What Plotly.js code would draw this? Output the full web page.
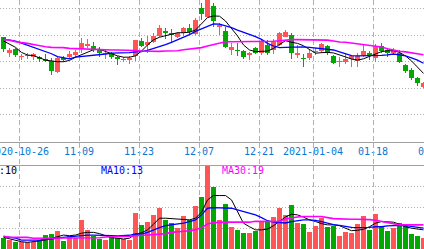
<!DOCTYPE html>
<html><head><meta charset="utf-8">
<script src="https://cdn.plot.ly/plotly-3.0.1.min.js"></script>
<style>html,body{margin:0;padding:0;overflow:hidden;background:#fff}#chart{width:454px;height:249px}</style>
</head><body><div id="chart"></div>
<script>
const dates = [
'2020-10-21','2020-10-22','2020-10-23','2020-10-26','2020-10-27','2020-10-28','2020-10-29','2020-10-30',
'2020-11-02','2020-11-03','2020-11-04','2020-11-05','2020-11-06','2020-11-09','2020-11-10','2020-11-11','2020-11-12','2020-11-13',
'2020-11-16','2020-11-17','2020-11-18','2020-11-19','2020-11-20','2020-11-23','2020-11-24','2020-11-25','2020-11-26','2020-11-27','2020-11-30',
'2020-12-01','2020-12-02','2020-12-03','2020-12-04','2020-12-07','2020-12-08','2020-12-09','2020-12-10','2020-12-11',
'2020-12-14','2020-12-15','2020-12-16','2020-12-17','2020-12-18','2020-12-21','2020-12-22','2020-12-23','2020-12-24','2020-12-25',
'2020-12-28','2020-12-29','2020-12-30','2020-12-31',
'2021-01-04','2021-01-05','2021-01-06','2021-01-07','2021-01-08','2021-01-11','2021-01-12','2021-01-13','2021-01-14','2021-01-15',
'2021-01-18','2021-01-19','2021-01-20','2021-01-21','2021-01-22','2021-01-25','2021-01-26','2021-01-27','2021-01-28'];
const extraDates = ['2021-01-29','2021-02-01'];

const open = [13.93,13.33,13.48,13.16,13.20,13.18,13.18,13.10,13.03,12.61,
13.14,13.18,13.27,13.48,13.59,13.59,13.48,13.29,13.33,13.18,
13.08,13.06,13.22,13.78,13.63,13.74,13.97,14.15,14.07,13.92,
14.09,14.27,14.03,15.02,14.69,15.09,14.32,14.17,13.44,13.44,
13.41,13.25,13.52,13.32,13.63,13.44,13.63,13.94,14.00,13.25,
13.14,13.13,13.35,13.41,13.59,13.22,12.98,13.00,13.10,13.04,
13.25,13.32,13.13,13.59,13.44,13.32,13.34,12.88,12.69,12.40,
12.04];
const high = [13.93,13.52,13.52,13.29,13.33,13.33,13.22,13.29,13.14,13.18,
13.22,13.40,13.44,13.89,13.85,13.74,13.55,13.44,13.37,13.22,
13.18,13.22,13.82,13.89,13.95,14.07,14.39,14.26,14.22,14.13,
14.29,14.42,14.63,15.22,15.51,15.20,14.44,14.29,13.71,13.69,
13.44,13.38,13.56,13.84,13.82,13.84,14.12,14.19,14.07,13.63,
13.29,13.44,13.50,13.71,13.63,13.25,13.17,13.34,13.25,13.32,
13.63,13.40,13.67,13.69,13.50,13.50,13.44,12.90,12.75,12.44,
12.25];
const low = [13.37,13.18,13.18,13.06,13.10,13.06,12.99,12.99,12.50,12.58,
12.99,13.10,13.18,13.33,13.52,13.37,13.18,13.10,13.10,12.88,
12.99,12.91,13.03,13.55,13.33,13.71,13.94,13.84,13.69,13.89,
13.97,14.00,14.00,14.57,14.67,14.32,14.00,13.50,13.25,13.22,
13.11,13.06,13.29,13.25,13.24,13.29,13.59,13.92,13.11,13.13,
12.81,13.06,13.25,13.34,13.25,12.91,12.81,12.91,12.81,12.81,
13.19,13.06,13.00,13.34,13.17,13.25,12.94,12.56,12.31,12.09,
12.01];
const close = [13.48,13.44,13.25,13.20,13.23,13.29,13.10,13.03,12.65,13.14,
13.06,13.29,13.35,13.70,13.67,13.48,13.33,13.33,13.18,13.10,
13.12,13.14,13.82,13.59,13.74,13.97,14.27,14.08,14.02,14.09,
14.26,14.12,14.57,14.79,15.40,14.54,14.38,13.54,13.56,13.39,
13.19,13.34,13.34,13.79,13.34,13.75,14.07,14.13,13.32,13.32,
13.09,13.34,13.40,13.67,13.32,12.96,13.03,13.09,13.22,13.22,
13.41,13.25,13.59,13.41,13.34,13.44,13.00,12.66,12.40,12.19,
12.19];

const ma5 = [13.78,13.67,13.54,13.35,13.25,13.23,13.14,13.06,13.03,13.00,
13.00,13.05,13.17,13.27,13.38,13.45,13.47,13.38,13.29,13.22,
13.17,13.17,13.22,13.40,13.63,13.82,13.92,13.97,14.04,14.09,
14.09,14.11,14.19,14.42,14.66,14.72,14.71,14.53,14.27,13.97,
13.63,13.44,13.38,13.38,13.40,13.50,13.63,13.79,13.73,13.69,
13.60,13.45,13.32,13.34,13.35,13.33,13.24,13.18,13.10,13.06,
13.11,13.19,13.29,13.38,13.41,13.41,13.35,13.22,13.03,12.81,
12.56];
const ma10 = [13.85,13.82,13.77,13.70,13.62,13.54,13.45,13.39,13.30,13.19,
13.14,13.11,13.17,13.19,13.23,13.24,13.25,13.29,13.32,13.32,
13.32,13.34,13.37,13.38,13.43,13.50,13.56,13.64,13.73,13.82,
13.92,14.02,14.14,14.24,14.35,14.42,14.41,14.35,14.28,14.19,
14.11,14.02,13.94,13.84,13.69,13.59,13.53,13.54,13.55,13.56,
13.56,13.54,13.52,13.50,13.48,13.44,13.37,13.29,13.23,13.22,
13.22,13.23,13.24,13.24,13.26,13.29,13.26,13.22,13.14,13.06,
12.94];
const ma30 = [13.83,13.81,13.75,13.73,13.69,13.65,13.60,13.56,13.54,13.54,
13.53,13.50,13.49,13.48,13.47,13.45,13.44,13.44,13.44,13.44,
13.44,13.44,13.42,13.40,13.39,13.39,13.39,13.40,13.40,13.41,
13.45,13.47,13.50,13.53,13.59,13.65,13.70,13.75,13.75,13.75,
13.75,13.75,13.75,13.75,13.76,13.77,13.79,13.82,13.83,13.83,
13.83,13.83,13.82,13.82,13.81,13.78,13.74,13.73,13.70,13.67,
13.63,13.62,13.59,13.55,13.49,13.44,13.39,13.37,13.34,13.30,
13.26];

const volume = [5.2,4.3,3.5,3.2,3.2,3.2,4.3,6.7,7.4,8.7,
3.9,6.3,5.2,14.0,9.2,6.4,4.8,4.3,5.9,5.2,
4.7,4.3,17.5,11.6,13.2,16.4,19.9,14.0,12.4,10.0,
15.9,14.0,20.7,25.2,42.0,30.0,14.0,21.7,10.7,9.2,
7.9,7.9,8.7,13.2,13.2,15.6,19.9,16.4,21.2,12.4,
11.9,8.3,11.2,14.8,10.7,11.2,6.4,8.0,7.6,12.2,
16.0,9.2,16.9,11.2,8.7,10.0,12.4,11.6,7.4,6.4,
5.2];
const volMa5 = [5.6,4.8,4.0,3.5,3.2,3.4,3.9,4.3,5.2,5.9,
6.7,6.4,6.7,7.6,8.0,8.0,7.4,6.4,5.4,5.2,
4.8,5.2,7.1,7.8,9.2,11.9,14.8,14.8,14.6,14.3,
14.3,14.0,14.8,17.7,23.6,25.7,25.7,25.7,23.6,17.7,
12.4,10.7,9.2,9.2,9.6,11.2,13.2,15.4,16.7,16.4,
15.3,14.0,13.2,12.2,11.6,11.6,11.2,10.0,8.8,9.0,
9.5,10.7,12.4,13.2,13.0,12.9,11.9,10.7,10.0,9.5,
9.2];
const volMa10 = [6.1,5.8,5.2,4.3,4.2,4.2,4.3,4.7,4.8,5.3,
5.6,5.8,6.3,6.6,6.7,6.7,6.7,6.7,6.4,6.3,
6.3,6.6,7.2,7.2,8.0,9.2,10.3,11.2,11.6,11.9,
12.4,13.2,14.0,16.4,19.6,19.9,19.9,19.9,19.6,18.8,
18.0,17.2,16.4,15.1,13.6,12.9,12.7,12.5,13.2,13.6,
14.0,14.0,13.8,13.2,12.4,11.7,11.4,10.9,10.4,10.3,
10.3,10.4,10.7,10.7,11.1,11.4,11.4,11.2,10.9,10.4,
10.0];
const volMa30 = [6.1,5.6,5.6,5.6,5.6,5.2,5.2,5.2,5.2,5.2,
5.2,5.2,5.2,5.4,5.4,5.4,5.4,5.8,5.8,5.8,
5.8,6.1,6.4,6.7,6.7,6.9,7.1,7.4,8.0,8.4,
8.5,8.7,9.3,10.3,12.0,12.7,12.9,12.9,12.9,12.9,
12.9,12.9,13.3,13.2,13.2,13.2,13.2,14.5,15.1,15.4,
15.6,15.6,15.6,15.6,15.1,14.6,14.5,14.3,14.3,14.3,
14.3,14.1,13.8,13.2,12.5,11.9,11.6,11.6,11.6,11.6,
11.6];

const tickDates = ['2020-10-26','2020-11-09','2020-11-23','2020-12-07','2020-12-21','2021-01-04','2021-01-18','2021-02-01'];
const tickLabels = ['2020-10-26','11-09','11-23','12-07','12-21','2021-01-04','01-18','02-01'];
const maLabels = ['MA5:10','MA10:13','MA30:19'];

// ---------- styling / geometry ----------
const W = 454, H = 249;
const PX = 6;                 // pixels per trading day
const X0 = -0.5833;
const xRange = [X0, X0 + W / PX];
const GRID_OFF = 0.4167;
const UP = '#ff5555', DOWN = '#00a800';
const C5 = '#000000', C10 = '#0000ff', C30 = '#ff00ff';
const MONO = 'DejaVu Sans Mono, Liberation Mono, monospace';
const GRIDC = '#b0b0b0';

const allDates = dates.concat(extraDates);
const idx = dates.map((d, i) => i);
const colors = close.map((c, i) => (c >= open[i] ? UP : DOWN));
const bodyBase = close.map((c, i) => Math.min(c, open[i]));
const bodyH = close.map((c, i) => Math.max(Math.abs(c - open[i]), 0.04));
const wickH = high.map((h, i) => h - low[i]);
const tickvals = tickDates.map(d => allDates.indexOf(d) - GRID_OFF);

const traces = [
  {type:'bar', x: idx, y: wickH, base: low, width: 1/PX, marker:{color: colors, line:{width:0}}, xaxis:'x', yaxis:'y', hoverinfo:'skip'},
  {type:'bar', x: idx, y: bodyH, base: bodyBase, width: 5/PX, marker:{color: colors, line:{width:0}}, xaxis:'x', yaxis:'y', customdata: dates, hovertemplate:'%{customdata}<extra></extra>'},
  {type:'scatter', mode:'lines', x: idx, y: ma5, line:{color:C5, width:1}, xaxis:'x', yaxis:'y', hoverinfo:'skip'},
  {type:'scatter', mode:'lines', x: idx, y: ma10, line:{color:C10, width:1.3}, xaxis:'x', yaxis:'y', hoverinfo:'skip'},
  {type:'scatter', mode:'lines', x: idx, y: ma30, line:{color:C30, width:1.6}, xaxis:'x', yaxis:'y', hoverinfo:'skip'},
  {type:'bar', x: idx, y: volume, width: 5/PX, marker:{color: colors, line:{width:0}}, xaxis:'x2', yaxis:'y2', hoverinfo:'skip'},
  {type:'scatter', mode:'lines', x: idx, y: volMa5, line:{color:C5, width:1}, xaxis:'x2', yaxis:'y2', hoverinfo:'skip'},
  {type:'scatter', mode:'lines', x: idx, y: volMa10, line:{color:C10, width:1.3}, xaxis:'x2', yaxis:'y2', hoverinfo:'skip'},
  {type:'scatter', mode:'lines', x: idx, y: volMa30, line:{color:C30, width:1.6}, xaxis:'x2', yaxis:'y2', hoverinfo:'skip'},
  {type:'scatter', mode:'markers', x: [0], y: [0], marker:{opacity:0}, xaxis:'x3', yaxis:'y3', hoverinfo:'skip'}
];

const xCommon = {range: xRange, tickmode:'array', tickvals: tickvals, showgrid:true, gridcolor: GRIDC, gridwidth:1,
  griddash:'5px,3px', zeroline:false, ticks:'', showticklabels:false, fixedrange:true};
const yCommon = {zeroline:false, ticks:'', showticklabels:false, fixedrange:true, gridcolor: GRIDC, gridwidth:1, griddash:'1px,2px'};

const priceBottom = 141.5, volTop = 165.5;
const annY = 1 - 170 / H;
const layout = {
  width: W, height: H, margin:{l:0, r:0, t:0, b:0}, paper_bgcolor:'#ffffff', plot_bgcolor:'#ffffff',
  showlegend:false, barmode:'overlay', bargap:0, hovermode:false,
  xaxis: Object.assign({}, xCommon, {anchor:'y', showticklabels:true, ticktext: tickLabels,
    tickfont:{family: MONO, size:10, color:'#0a78d2'}, ticklabeloverflow:'allow',
    showline:true, linecolor:'#a0a0a0', linewidth:1}),
  yaxis: Object.assign({}, yCommon, {domain:[1 - priceBottom / H, 1], range:[10, 15.32], tickmode:'array', tickvals:[11,12,13,14,15]}),
  xaxis2: Object.assign({}, xCommon, {anchor:'y2', side:'top', showline:true, linecolor:'#a0a0a0', linewidth:1}),
  yaxis2: Object.assign({}, yCommon, {domain:[0, (H - volTop) / H], range:[0, 40.14], tickmode:'array', tickvals:[10,20,30]}),
  xaxis3: Object.assign({}, xCommon, {anchor:'y3'}),
  yaxis3: Object.assign({}, yCommon, {domain:[(H - volTop + 1) / H, (H - priceBottom - 1) / H], showgrid:false, range:[0,1]}),
  annotations: [
    {xref:'paper', yref:'paper', x: 18.5 / W, y: annY, xanchor:'right', yanchor:'middle', showarrow:false, text: maLabels[0], font:{family: MONO, size:10, color:C5}},
    {xref:'paper', yref:'paper', x: 99 / W, y: annY, xanchor:'left', yanchor:'middle', showarrow:false, text: maLabels[1], font:{family: MONO, size:10, color:C10}},
    {xref:'paper', yref:'paper', x: 220 / W, y: annY, xanchor:'left', yanchor:'middle', showarrow:false, text: maLabels[2], font:{family: MONO, size:10, color:C30}}
  ]
};

Plotly.newPlot('chart', traces, layout, {staticPlot:true, displayModeBar:false});
</script></body></html>
